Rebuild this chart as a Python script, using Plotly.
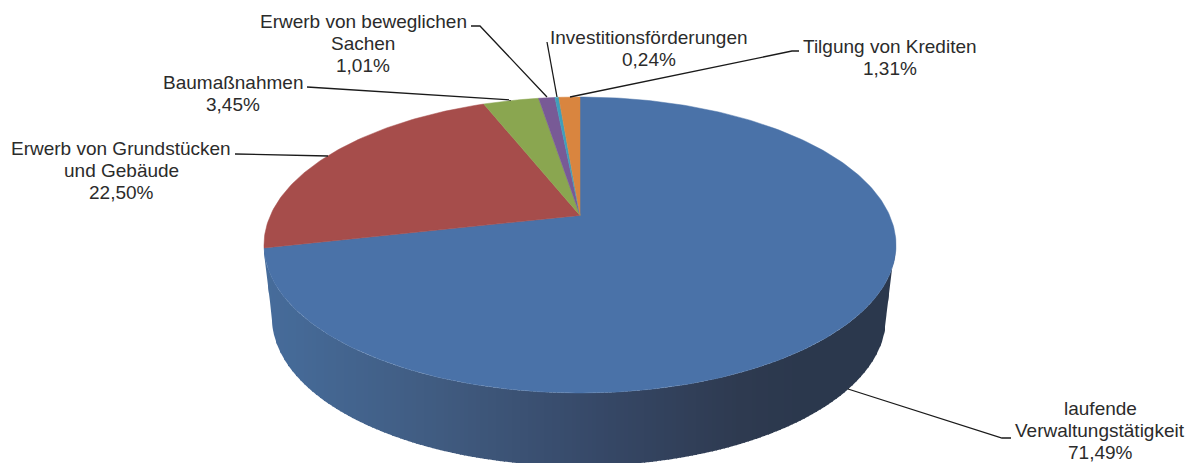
import math
import plotly.graph_objects as go

categories = ["laufende Verwaltungstätigkeit", "Erwerb von Grundstücken und Gebäude", "Baumaßnahmen",
              "Erwerb von beweglichen Sachen", "Investitionsförderungen", "Tilgung von Krediten"]
values = [71.49, 22.50, 3.45, 1.01, 0.24, 1.31]
value_labels = ["71,49%", "22,50%", "3,45%", "1,01%", "0,24%", "1,31%"]
label_lines = [["laufende", "Verwaltungstätigkeit"], ["Erwerb von Grundstücken", "und Gebäude"], ["Baumaßnahmen"],
               ["Erwerb von beweglichen", "Sachen"], ["Investitionsförderungen"], ["Tilgung von Krediten"]]
colors = ["#4a72a8", "#a64d4b", "#8aa650", "#785a96", "#3f9fbb", "#d9853f"]

# geometry of the tilted disc, in page pixels
CX, CY, RX, RY, TILT = 580, 245, 316, 148, 0.2
LOW_CX, LOW_CY, LOW_RX, LOW_RY = 579, 318, 307, 148
label_pos = [(1100, 430.5), (121, 170.5), (233, 93.5), (363, 43), (649, 48), (890, 57)]
LINE_STEP = 22
leaders = [
    [(848, 389), (1002, 438), (1011, 438)],
    [(235, 154), (328, 156)],
    [(307, 87), (511, 100)],
    [(471, 26), (480, 26), (547, 97)],
    [(547, 42), (557, 97)],
    [(570, 97), (792, 51), (799, 51)],
]
side_stops = [(264, (70, 108, 155)), (300, (69, 105, 150)), (440, (64, 91, 128)),
              (600, (54, 72, 103)), (740, (46, 58, 80)), (800, (43, 56, 77)), (896, (43, 56, 77))]


def top_point(theta):
    """Clockwise angle from 12 o'clock -> page point on the tilted disc rim."""
    u, v = math.sin(theta), math.cos(theta)
    k = 1 + TILT * v
    return CX + RX * u * math.sqrt(1 - TILT ** 2) / k, CY - RY * (v + TILT) / k


def side_color(x):
    for (x0, c0), (x1, c1) in zip(side_stops, side_stops[1:]):
        if x <= x1:
            t = max(0, (x - x0) / (x1 - x0))
            return "rgb(%d,%d,%d)" % tuple(round(a + (b - a) * t) for a, b in zip(c0, c1))
    return "rgb(43,56,77)"


def wall_top(x):
    u = min(1, abs(x - CX) / RX)
    return CY + RY * math.sqrt(1 - u * u)


def wall_bottom(x):
    d = abs(x - LOW_CX)
    if d <= LOW_RX:
        return LOW_CY + LOW_RY * math.sqrt(1 - (d / LOW_RX) ** 2)
    # straight silhouette between the two rims
    return LOW_CY - (LOW_CY - CY) * (d - LOW_RX) / max(1e-6, (RX - LOW_RX))


fig = go.Figure()

# side wall: overlapping vertical strips, painted left to right
x = CX - RX
STEP = 4
while x < CX + RX:
    x1 = min(x + STEP + 1, CX + RX)
    n = 5
    xs = [x + (x1 - x) * j / n for j in range(n + 1)]
    tops = [wall_top(v) for v in xs]
    bots = [wall_bottom(v) for v in xs]
    col = side_color(x + STEP / 2)
    fig.add_trace(go.Scatter(x=xs + xs[::-1] + xs[:1], y=tops + bots[::-1] + tops[:1], mode="lines",
                             fill="toself", fillcolor=col, line=dict(width=0),
                             hoverinfo="skip", showlegend=False))
    x += STEP

# top slices
total = sum(values)
start = 0.0
ax, ay = CX, CY - RY * TILT
for name, val, col in zip(categories, values, colors):
    end = start + val / total * 2 * math.pi
    steps = max(3, int(val * 4))
    pts = [top_point(start + (end - start) * j / steps) for j in range(steps + 1)]
    xs = [ax] + [p[0] for p in pts] + [ax]
    ys = [ay] + [p[1] for p in pts] + [ay]
    fig.add_trace(go.Scatter(x=xs, y=ys, mode="lines", fill="toself", fillcolor=col,
                             line=dict(color=col, width=0.5), name=name, showlegend=False))
    start = end

# leader lines
for pts in leaders:
    fig.add_trace(go.Scatter(x=[p[0] for p in pts], y=[p[1] for p in pts], mode="lines",
                             line=dict(color="#1a1a1a", width=1.3), hoverinfo="skip", showlegend=False))

# labels, one annotation per line so the line pitch can be kept tighter than the default
for lines, val, (x, y) in zip(label_lines, value_labels, label_pos):
    rows = lines + [val]
    for i, row in enumerate(rows):
        fig.add_annotation(x=x, y=y + (i - (len(rows) - 1) / 2) * LINE_STEP, text=row, showarrow=False,
                           xanchor="center", yanchor="middle",
                           font=dict(family="Liberation Sans, Arial, sans-serif", size=19, color="#2b2b2b"))

fig.update_layout(width=1188, height=463, margin=dict(l=0, r=0, t=0, b=0),
                  paper_bgcolor="white", plot_bgcolor="white", showlegend=False,
                  xaxis=dict(range=[0, 1188], visible=False, fixedrange=True),
                  yaxis=dict(range=[463, 0], visible=False, fixedrange=True))

fig.write_html("out.html", config=dict(displayModeBar=False),
               post_script="document.body.style.margin='0';document.documentElement.style.overflow='hidden';")
